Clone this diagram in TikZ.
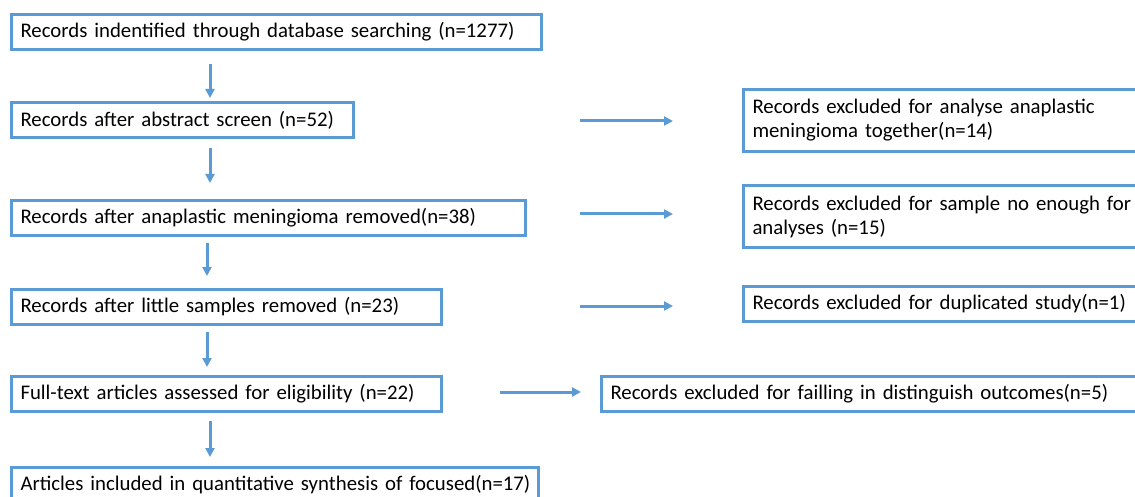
\documentclass[tikz,border=0pt]{standalone}
\usepackage{fontspec}
\setmainfont{Carlito}
\usetikzlibrary{arrows.meta}
\definecolor{boxblue}{HTML}{5B9BD5}
\tikzset{
  box/.style={draw=boxblue, line width=3pt, anchor=north west, rectangle,
    inner xsep=9pt, inner ysep=0pt, align=left, minimum height=#1,
    font=\fontsize{20.8}{24}\selectfont, text=black},
  box/.default=35pt,
  flow/.style={draw=boxblue, line width=3pt, -{Triangle[length=9pt,width=9pt]}}
}
\begin{document}
\begin{tikzpicture}[x=1pt,y=-1pt]
\useasboundingbox (0,0) rectangle (1135,497);
\fill[white] (0,0) rectangle (1135,497);
\clip (0,0) rectangle (1135,497);
% main column
\node[box, text width=512pt] (b1) at (10,13) {Records indentified through database searching (n=1277)};
\node[box, text width=324pt] (b2) at (10,101) {Records after abstract screen (n=52)};
\node[box, text width=496pt] (b3) at (10,199) {Records after anaplastic meningioma removed(n=38)};
\node[box, text width=412pt] (b4) at (10,288) {Records after little samples removed (n=23)};
\node[box, text width=412pt] (b5) at (10,375) {Full-text articles assessed for eligibility (n=22)};
\node[box, text width=509pt] (b6) at (10,466) {\makebox[0pt][l]{Articles included in quantitative synthesis of focused(n=17)}};
% exclusion boxes
\node[box=62pt, text width=410pt] (r1) at (742,88) {Records excluded for analyse anaplastic\\meningioma together(n=14)};
\node[box=62pt, text width=410pt] (r2) at (742,184) {Records excluded for sample no enough for\\analyses (n=15)};
\node[box, text width=410pt] (r3) at (742,285) {Records excluded for duplicated study(n=1)};
\node[box, text width=552pt] (r4) at (600,375) {Records excluded for failling in distinguish outcomes(n=5)};
% arrow end points
\coordinate (v1s) at (210,64); \coordinate (v1e) at (210,98);
\coordinate (v2s) at (210,148); \coordinate (v2e) at (210,183);
\coordinate (v3s) at (207,243); \coordinate (v3e) at (207,276);
\coordinate (v4s) at (207,332); \coordinate (v4e) at (207,367);
\coordinate (v5s) at (210,421); \coordinate (v5e) at (210,457);
\coordinate (h1s) at (580,121); \coordinate (h1e) at (673,121);
\coordinate (h2s) at (580,214); \coordinate (h2e) at (673,214);
\coordinate (h3s) at (580,306); \coordinate (h3e) at (673,306);
\coordinate (h4s) at (500,392); \coordinate (h4e) at (581,392);
\draw[flow] (v1s) -- (v1e);
\draw[flow] (v2s) -- (v2e);
\draw[flow] (v3s) -- (v3e);
\draw[flow] (v4s) -- (v4e);
\draw[flow] (v5s) -- (v5e);
\draw[flow] (h1s) -- (h1e);
\draw[flow] (h2s) -- (h2e);
\draw[flow] (h3s) -- (h3e);
\draw[flow] (h4s) -- (h4e);
\end{tikzpicture}
\end{document}
